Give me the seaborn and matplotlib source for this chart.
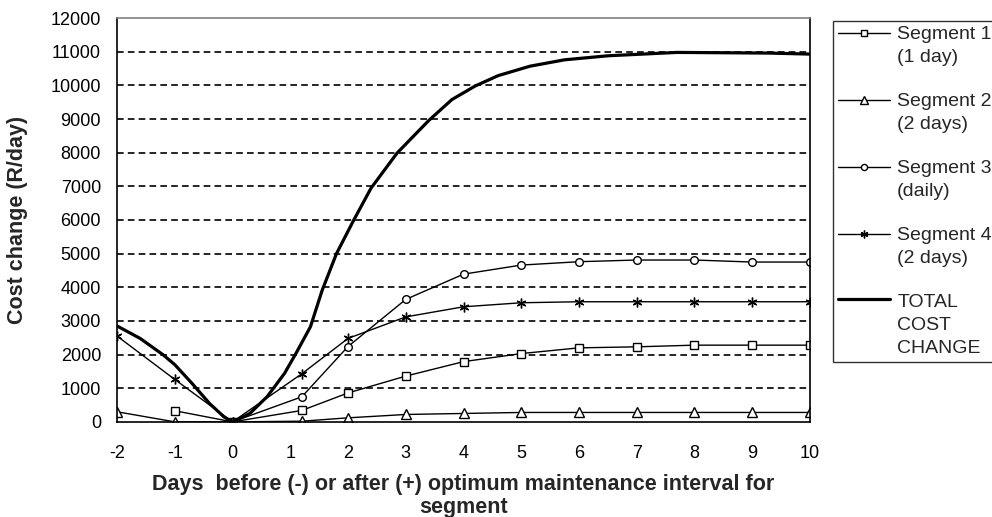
import numpy as np
import matplotlib
matplotlib.use("Agg")
import matplotlib.pyplot as plt
import seaborn as sns
from matplotlib.legend_handler import HandlerLine2D

# ── Data ─────────────────────────────────────────────────────────────────────
SEG1_X = [-1, 0, 1.2, 2, 3, 4, 5, 6, 7, 8, 9, 10]
SEG1_Y = [330, 0, 340, 860, 1360, 1790, 2030, 2200, 2230, 2280, 2280, 2280]

SEG2_X = [-2, -1, 0, 1.2, 2, 3, 4, 5, 6, 7, 8, 9, 10]
SEG2_Y = [300, 0, 0, 20, 120, 220, 250, 280, 280, 280, 280, 280, 280]

SEG3_X = [0, 1.2, 2, 3, 4, 5, 6, 7, 8, 9, 10]
SEG3_Y = [0, 745, 2240, 3640, 4390, 4660, 4760, 4810, 4810, 4750, 4750]

SEG4_X = [-2, -1, 0, 1.2, 2, 3, 4, 5, 6, 7, 8, 9, 10]
SEG4_Y = [2550, 1260, 0, 1430, 2480, 3120, 3420, 3540, 3570, 3570, 3570, 3570, 3570]

# total curve traced along its smoothed path
TOTAL_X = [-2, -1.6, -1.2, -1, -0.7, -0.4, -0.15, 0, 0.3, 0.6, 0.9, 1.1, 1.35,
           1.55, 1.8, 2.1, 2.4, 2.85, 3.4, 3.8, 4.2, 4.6, 5.15, 5.75, 6.5, 7.7,
           9.3, 10]
TOTAL_Y = [2850, 2480, 1990, 1700, 1140, 550, 150, 0, 250, 750, 1440, 2040, 2830,
           3900, 5000, 6000, 6950, 7990, 8960, 9580, 9980, 10290, 10570, 10760,
           10880, 10980, 10960, 10930]

LABELS = ["Segment 1\n(1 day)", "Segment 2\n(2 days)", "Segment 3\n(daily)",
          "Segment 4\n(2 days)", "TOTAL\nCOST\nCHANGE"]
X_TICKS = list(range(-2, 11))
Y_TICKS = list(range(0, 12001, 1000))

LEG_LINESPACING = 1.45


class FirstLineHandler(HandlerLine2D):
    """Put the legend key level with the first text line, like Excel does."""

    def __init__(self, n_lines, **kw):
        super().__init__(**kw)
        self.shift = (n_lines - 1) / 2

    def create_artists(self, legend, orig_handle, xdescent, ydescent,
                       width, height, fontsize, trans):
        artists = super().create_artists(legend, orig_handle, xdescent, ydescent,
                                         width, height, fontsize, trans)
        for a in artists:
            a.set_ydata(np.asarray(a.get_ydata())
                        + self.shift * fontsize * 0.92 * LEG_LINESPACING)
        return artists


# ── Style ────────────────────────────────────────────────────────────────────
sns.set_style("white")
plt.rcParams["font.family"] = ["Liberation Sans", "DejaVu Sans"]

fig = plt.figure(figsize=(9.92, 5.17), dpi=100)
ax = fig.add_axes([0.118, 0.184, 0.6985, 0.781])

seg_kw = dict(color="black", lw=1, markerfacecolor="white", markeredgecolor="black",
              markeredgewidth=1, estimator=None, sort=False, ax=ax)

sns.lineplot(x=SEG1_X, y=SEG1_Y, marker="s", markersize=6, label=LABELS[0], **seg_kw)
sns.lineplot(x=SEG2_X, y=SEG2_Y, marker="^", markersize=6.5, label=LABELS[1], **seg_kw)
sns.lineplot(x=SEG3_X, y=SEG3_Y, marker="o", markersize=5.5, label=LABELS[2], **seg_kw)
sns.lineplot(x=SEG4_X, y=SEG4_Y, marker=(6, 2, 0), markersize=7, label=LABELS[3], **seg_kw)
sns.lineplot(x=TOTAL_X, y=TOTAL_Y, color="black", lw=2.3, estimator=None,
             sort=False, ax=ax, label=LABELS[4])

ax.set_xlim(-2, 10)
ax.set_ylim(0, 12000)
ax.set_xticks(X_TICKS)
ax.set_yticks(Y_TICKS)
ax.set_xticklabels([str(t) for t in X_TICKS], fontsize=13)
ax.set_yticklabels([str(t) for t in Y_TICKS], fontsize=13)
ax.tick_params(axis="y", direction="inout", length=7, width=1, pad=8, colors="black")
ax.tick_params(axis="x", direction="out", length=6, width=1, pad=11, colors="black")

ax.yaxis.grid(True, color="black", lw=1.2, linestyle=(0, (4, 2.5)))
gl = ax.yaxis.get_gridlines()
gl[0].set_visible(False)
gl[-1].set_visible(False)

for side in ["left", "bottom", "right"]:
    ax.spines[side].set_color("black")
    ax.spines[side].set_linewidth(1.2)
ax.spines["top"].set_color("#808080")
ax.spines["top"].set_linewidth(1.2)

ax.set_ylabel("Cost change (R/day)", fontsize=15.5, fontweight="bold")
ax.yaxis.set_label_coords(-0.128, 0.5)
ax.set_xlabel("Days  before (-) or after (+) optimum maintenance interval for\nsegment",
              fontsize=15.5, fontweight="bold", labelpad=8, linespacing=1.15)

handles, labels = ax.get_legend_handles_labels()
hmap = {h: FirstLineHandler(lab.count("\n") + 1) for h, lab in zip(handles, labels)}
leg = ax.legend(handles, labels, loc="upper left", handler_map=hmap,
                bbox_to_anchor=(833 / 992, 1 - 21 / 517), bbox_transform=fig.transFigure,
                frameon=True, fancybox=False, fontsize=14,
                handlelength=2.7, handletextpad=0.35, borderpad=0.25,
                labelspacing=1.4, borderaxespad=0, markerscale=0.8)
for t in leg.get_texts():
    t.set_linespacing(LEG_LINESPACING)
leg.get_frame().set_edgecolor("black")
leg.get_frame().set_linewidth(1)

fig.savefig("out.png", dpi=100)
